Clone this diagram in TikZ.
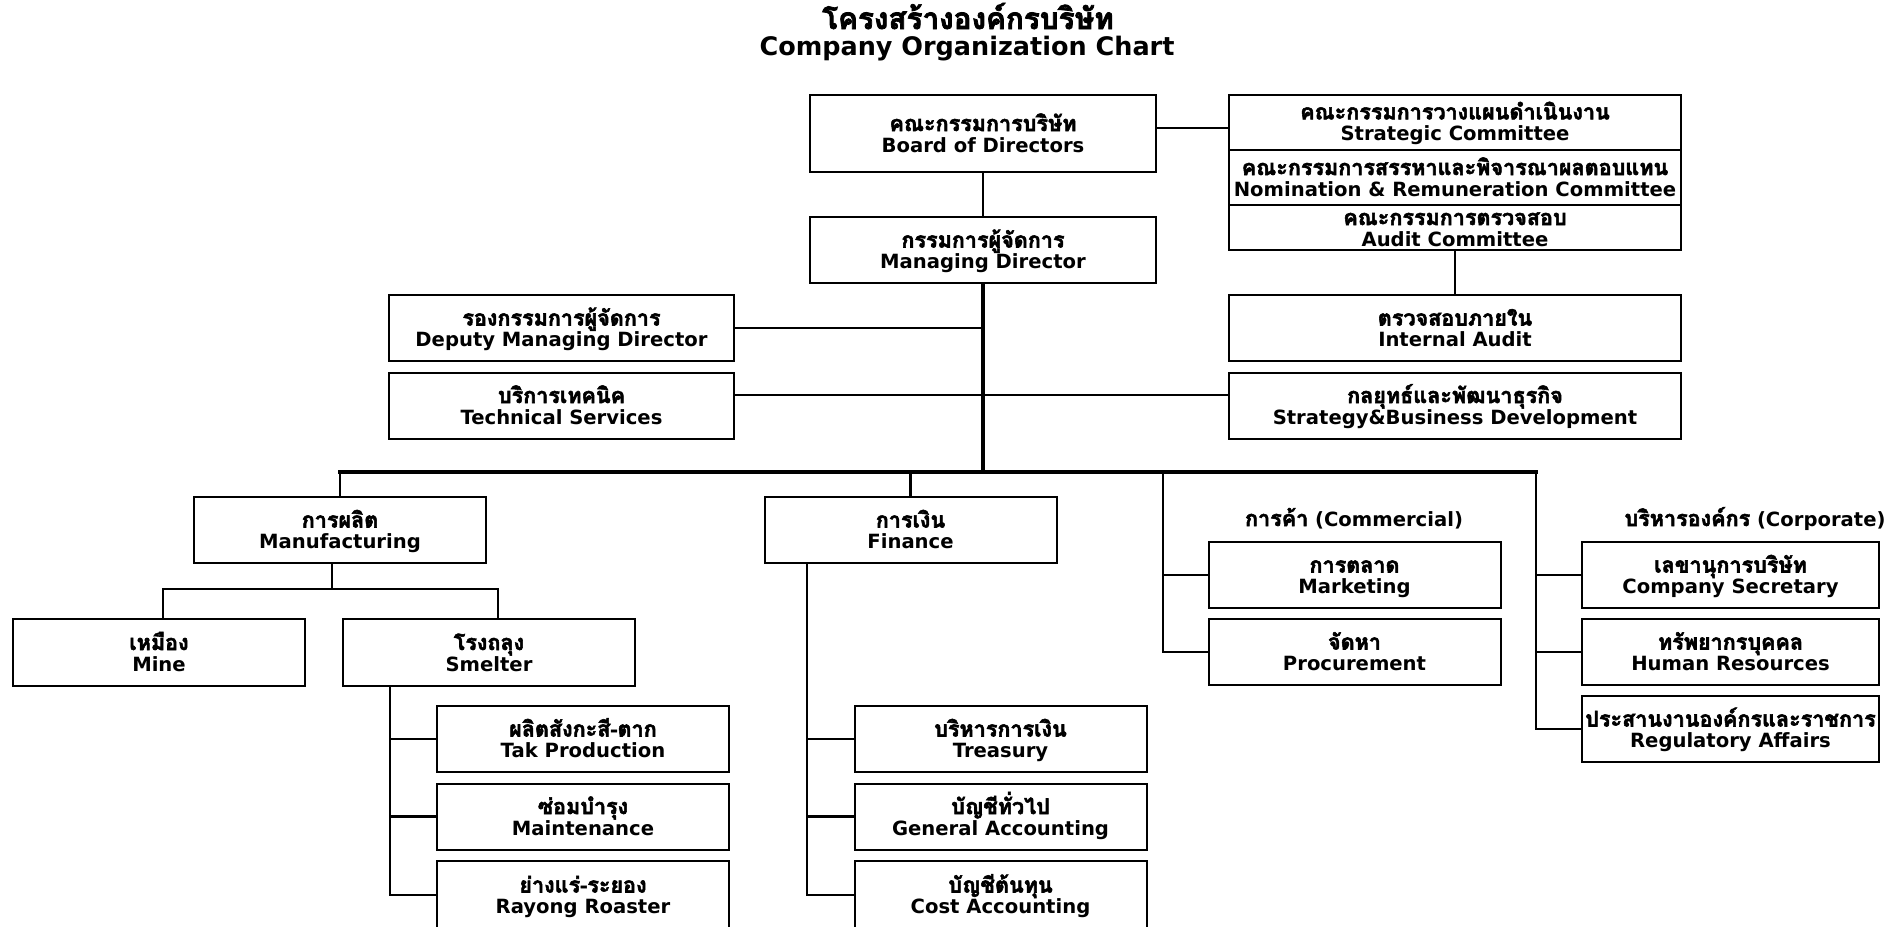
\documentclass[tikz,border=0pt]{standalone}
\usepackage{fontspec}
\setmainfont{DejaVu Sans}
\newfontfamily\thai[Script=Thai, Scale=1.10, FakeBold=2.5]{Loma}
\usetikzlibrary{calc}
\newcommand\bxt[2]{\rule{0pt}{22pt}{\thai #1}\\\rule[-6pt]{0pt}{6pt}#2}
\newcommand\cmt[2]{\rule{0pt}{19pt}{\thai #1}\\\rule[-3pt]{0pt}{3pt}#2}
\tikzset{
  orgbox/.style={draw, line width=2pt, rectangle, inner sep=0pt, align=center,
    font=\fontsize{19.6}{21}\selectfont\bfseries},
  wTop/.style={minimum width=346pt},
  wCom/.style={minimum width=452pt},
  wDep/.style={minimum width=345pt},
  wStd/.style={minimum width=292pt},
  wCor/.style={minimum width=297pt},
  hStd/.style={minimum height=66pt},
  conn/.style={line width=2.4pt},
  trunk/.style={line width=3.2pt},
  lab/.style={inner sep=0pt, anchor=base, font=\fontsize{19.6}{21}\selectfont\bfseries},
  ttl/.style={inner sep=0pt, anchor=base, font=\fontsize{25.5}{30}\selectfont\bfseries}
}
\begin{document}
\begin{tikzpicture}[x=1pt,y=-1pt]
\fill[white] (0,0) rectangle (1892,926);
\useasboundingbox (0,0) rectangle (1892,926);

% title
\node[ttl, text depth=0pt] (tTH) at (968,29) {\thai\fontsize{27}{30}\selectfont โครงสร้างองค์กรบริษัท};
\node[ttl] (tEN) at (967,55) {Company Organization Chart};

% top level
\node[orgbox, wTop, minimum height=77pt] (BoD) at (983,133.5) {\bxt{คณะกรรมการบริษัท}{Board of Directors}};
\node[orgbox, wTop, hStd] (MD) at (983,250) {\bxt{กรรมการผู้จัดการ}{Managing Director}};

% committees
\node[orgbox, wCom, minimum height=55pt] (strat) at (1455,122.5) {\cmt{คณะกรรมการวางแผนดำเนินงาน}{Strategic Committee}};
\node[orgbox, wCom, minimum height=55pt] (nom) at (1455,177.5) {\cmt{คณะกรรมการสรรหาและพิจารณาผลตอบแทน}{Nomination \& Remuneration Committee}};
\node[orgbox, wCom, minimum height=45pt] (audit) at (1455,227.5) {\cmt{คณะกรรมการตรวจสอบ}{Audit Committee}};

\node[orgbox, wCom, hStd] (IA) at (1455,328) {\bxt{ตรวจสอบภายใน}{Internal Audit}};
\node[orgbox, wCom, hStd] (SBD) at (1455,405.5) {\bxt{กลยุทธ์และพัฒนาธุรกิจ}{Strategy\&Business Development}};

\node[orgbox, wDep, hStd] (DMD) at (561.5,328) {\bxt{รองกรรมการผู้จัดการ}{Deputy Managing Director}};
\node[orgbox, wDep, hStd] (TS) at (561.5,405.5) {\bxt{บริการเทคนิค}{Technical Services}};

% second level
\node[orgbox, wStd, hStd] (MFG) at (340,530) {\bxt{การผลิต}{Manufacturing}};
\node[orgbox, wStd, hStd] (FIN) at (910.5,530) {\bxt{การเงิน}{Finance}};

\node[lab] (comL) at (1354,526) {{\thai การค้า} (Commercial)};
\node[orgbox, wStd, hStd] (MKT) at (1354.5,575) {\bxt{การตลาด}{Marketing}};
\node[orgbox, wStd, hStd] (PRC) at (1354.5,652) {\bxt{จัดหา}{Procurement}};

\node[lab] (corL) at (1755,526) {{\thai บริหารองค์กร} (Corporate)};
\node[orgbox, wCor, hStd] (CS) at (1730.5,575) {\bxt{เลขานุการบริษัท}{Company Secretary}};
\node[orgbox, wCor, hStd] (HR) at (1730.5,652) {\bxt{ทรัพยากรบุคคล}{Human Resources}};
\node[orgbox, wCor, hStd] (RA) at (1730.5,729) {\bxt{ประสานงานองค์กรและราชการ}{Regulatory Affairs}};

% third level
\node[orgbox, wStd, minimum height=67pt] (MINE) at (159,652.5) {\bxt{เหมือง}{Mine}};
\node[orgbox, wStd, minimum height=67pt] (SML) at (489,652.5) {\bxt{โรงถลุง}{Smelter}};

\node[orgbox, wStd, hStd] (TAK) at (583,739) {\bxt{ผลิตสังกะสี-ตาก}{Tak Production}};
\node[orgbox, wStd, hStd] (MNT) at (583,816.5) {\bxt{ซ่อมบำรุง}{Maintenance}};
\node[orgbox, wStd, minimum height=68pt] (RR) at (583,895) {\bxt{ย่างแร่-ระยอง}{Rayong Roaster}};

\node[orgbox, wStd, hStd] (TRS) at (1000.5,739) {\bxt{บริหารการเงิน}{Treasury}};
\node[orgbox, wStd, hStd] (GA) at (1000.5,816.5) {\bxt{บัญชีทั่วไป}{General Accounting}};
\node[orgbox, wStd, minimum height=68pt] (CA) at (1000.5,895) {\bxt{บัญชีต้นทุน}{Cost Accounting}};

% connectors
\coordinate (jBC) at (0,128);
\draw[conn] (BoD.east |- jBC) -- (strat.west |- jBC);
\draw[conn] (BoD.south) -- (MD.north);
\draw[conn] (audit.south) -- (IA.north);

\coordinate (busL) at (340,472);
\coordinate (busR) at (1536,472);
\draw[trunk] (MD.south) -- (MD.south |- busL);
\draw[conn] (DMD.east) -- (DMD.east -| MD.south);
\coordinate (jT) at (0,395);
\draw[conn] (TS.east |- jT) -- (SBD.west |- jT);
\draw[trunk, line cap=rect] (busL) -- (busR);
\draw[conn] (busL) -- (MFG.north);
\draw[conn] (FIN.north |- busL) -- (FIN.north);

\coordinate (comV) at (1163,472);
\draw[conn] (comV) |- (PRC.west);
\draw[conn] (MKT.west -| comV) -- (MKT.west);

\coordinate (corV) at (1536,472);
\draw[conn] (corV) |- (RA.west);
\draw[conn] (CS.west -| corV) -- (CS.west);
\draw[conn] (HR.west -| corV) -- (HR.west);

\coordinate (mfgJ) at (332,589);
\coordinate (mineJ) at (163,589);
\coordinate (smJ) at (498,589);
\draw[conn] (MFG.south -| mfgJ) -- (mfgJ);
\draw[conn] (mineJ |- MINE.north) -- (mineJ) -- (smJ) -- (smJ |- SML.north);

\coordinate (smV) at (390,0);
\draw[conn] (SML.south -| smV) |- (RR.west);
\draw[conn] (TAK.west -| smV) -- (TAK.west);
\draw[conn] (MNT.west -| smV) -- (MNT.west);

\coordinate (finV) at (807,0);
\draw[conn] (FIN.south -| finV) |- (CA.west);
\draw[conn] (TRS.west -| finV) -- (TRS.west);
\draw[conn] (GA.west -| finV) -- (GA.west);
\end{tikzpicture}
\end{document}
